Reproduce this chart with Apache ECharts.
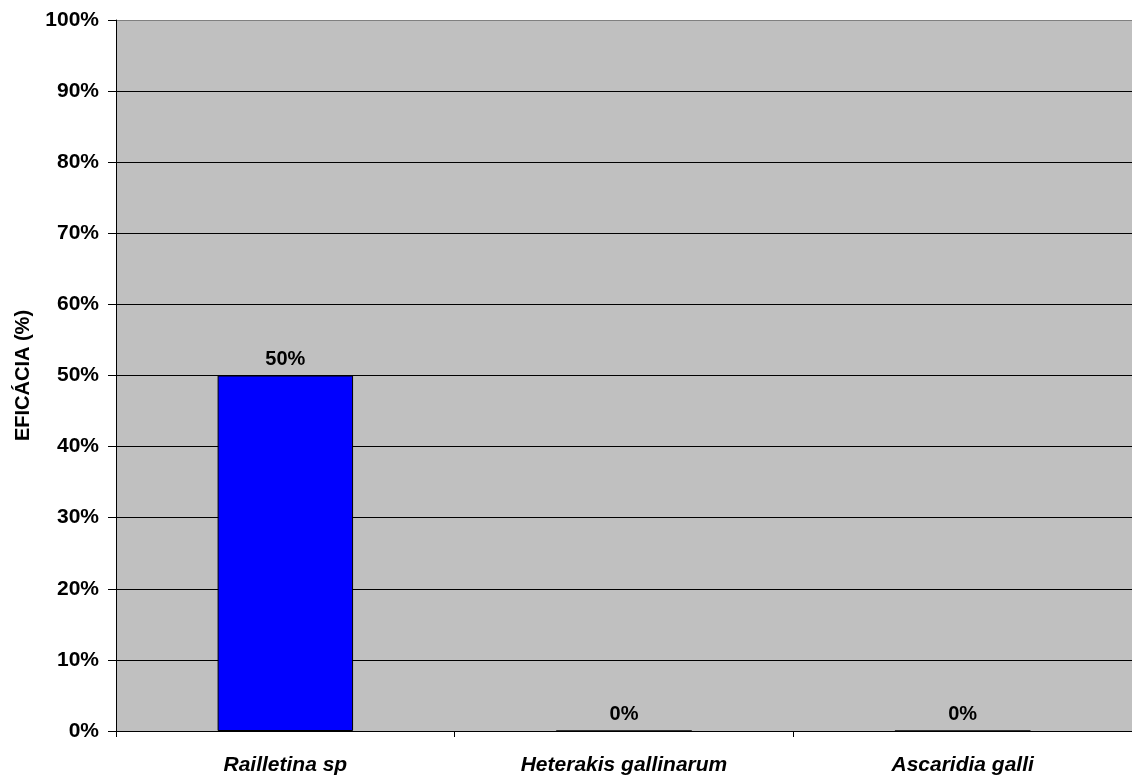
<!DOCTYPE html>
<html>
<head>
<meta charset="utf-8">
<script src="https://cdn.jsdelivr.net/npm/echarts@6/dist/echarts.min.js"></script>
<style>
  html, body { margin: 0; padding: 0; background: #ffffff; }
  #chart { width: 1132px; height: 778px; }
</style>
</head>
<body>
<div id="chart"></div>
<script>
// Parasite species and anthelmintic efficacy (%)
const categories = ['Railletina sp', 'Heterakis gallinarum', 'Ascaridia galli'];
const efficacy = [50, 0, 0];
const yTicks = [0, 10, 20, 30, 40, 50, 60, 70, 80, 90, 100];

const FONT = '"Liberation Sans", Arial, Helvetica, sans-serif';

// split line colours: black for inner lines, grey for the top edge
const splitColors = yTicks.map((v, i) => (i === yTicks.length - 1 ? '#808080' : '#000000'));

const chart = echarts.init(document.getElementById('chart'), null, { renderer: 'canvas' });

chart.setOption({
  animation: false,
  backgroundColor: '#ffffff',
  grid: {
    left: 116,
    right: -4,
    top: 20,
    bottom: 47,
    show: true,
    backgroundColor: '#C0C0C0',
    borderWidth: 0
  },
  xAxis: {
    type: 'category',
    data: categories,
    boundaryGap: true,
    axisLine: { show: true, lineStyle: { color: '#000000', width: 1 } },
    axisTick: { show: true, length: 6, lineStyle: { color: '#000000' } },
    axisLabel: {
      margin: 24,
      color: '#000000',
      fontFamily: FONT,
      fontSize: 21,
      fontWeight: 'bold',
      fontStyle: 'italic'
    },
    splitLine: { show: false }
  },
  yAxis: {
    type: 'value',
    min: yTicks[0],
    max: yTicks[yTicks.length - 1],
    interval: 10,
    name: 'EFICÁCIA (%)',
    nameLocation: 'middle',
    nameGap: 83,
    nameTextStyle: {
      color: '#000000',
      fontFamily: FONT,
      fontSize: 20,
      fontWeight: 'bold'
    },
    axisLine: { show: true, lineStyle: { color: '#000000', width: 1 } },
    axisTick: { show: true, length: 8, lineStyle: { color: '#000000' } },
    axisLabel: {
      margin: 17,
      color: '#000000',
      fontFamily: FONT,
      fontSize: 21,
      fontWeight: 'bold',
      formatter: v => v + '%'
    },
    splitLine: { show: true, lineStyle: { color: splitColors, width: 1 } }
  },
  series: [{
    type: 'bar',
    data: efficacy,
    barWidth: '40%',
    itemStyle: { color: '#0000FF', borderColor: '#000000', borderWidth: 1 },
    label: {
      show: true,
      position: 'top',
      distance: 6,
      color: '#000000',
      fontFamily: FONT,
      fontSize: 20,
      fontWeight: 'bold',
      formatter: p => p.value + '%'
    }
  }]
});
</script>
</body>
</html>
